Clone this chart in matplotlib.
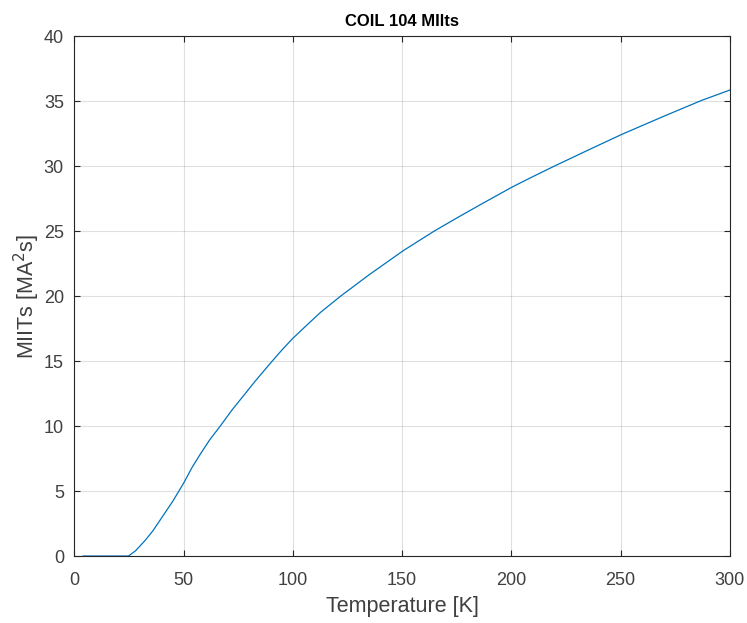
import matplotlib
matplotlib.use("Agg")
import matplotlib.pyplot as plt
from matplotlib import font_manager

plt.rcParams['font.family'] = ['Liberation Sans', 'DejaVu Sans']

temperature = [4, 10, 20, 24.8, 28, 32.4, 36, 40, 45, 50, 54, 57.7, 62, 66.8, 72, 77.5,
               83, 89.8, 95, 100, 106, 112.7, 121.9, 135, 150.6, 164.7, 176, 186, 200.5,
               209, 219.7, 235, 250.8, 270, 287, 300]
miits = [0, 0, 0, 0, 0.4, 1.2, 1.95, 2.95, 4.2, 5.6, 6.85, 7.85, 8.95, 10.0, 11.2, 12.35,
         13.5, 14.85, 15.85, 16.75, 17.7, 18.75, 20.0, 21.65, 23.5, 25.0, 26.1, 27.05, 28.4,
         29.12, 30.0, 31.22, 32.46, 33.85, 35.05, 35.85]

xticks = [0, 50, 100, 150, 200, 250, 300]
yticks = [0, 5, 10, 15, 20, 25, 30, 35, 40]

fig = plt.figure(figsize=(7.47, 6.23), dpi=100)
ax = fig.add_axes([0.0995, 0.1075, 0.8775, 0.8345])
ax.plot(temperature, miits, color='#0072BD', linewidth=0.9)

ax.set_xlim(0, 300)
ax.set_ylim(0, 40)
ax.set_xticks(xticks)
ax.set_yticks(yticks)
ax.grid(True, color='#000000', alpha=0.12, linewidth=0.8)
ax.tick_params(direction='in', top=True, right=True, length=4, width=0.8,
               colors='#262626', labelsize=13)
ax.tick_params(axis='x', pad=11.5)
ax.tick_params(axis='y', pad=7.5)
for lab in ax.get_xticklabels() + ax.get_yticklabels():
    lab.set_color('#404040')
for s in ax.spines.values():
    s.set_color('#262626')
    s.set_linewidth(0.8)

ax.set_xlabel('Temperature [K]', fontsize=15.5, color='#404040', labelpad=5)
ax.set_ylabel('MIITs [MA$^2$s]', fontsize=15.5, color='#404040', labelpad=1)

names = {f.name for f in font_manager.fontManager.ttflist}
if 'Liberation Sans Narrow' in names:
    ax.set_title('COIL 104 MIlts', fontsize=13.5, fontweight='bold', color='#000000',
                 pad=7, family=['Liberation Sans Narrow', 'DejaVu Sans'])
else:
    ax.set_title('COIL 104 MIlts', fontsize=12, fontweight='bold', color='#000000',
                 pad=7, fontstretch='condensed')

fig.savefig('out.png', dpi=100)
